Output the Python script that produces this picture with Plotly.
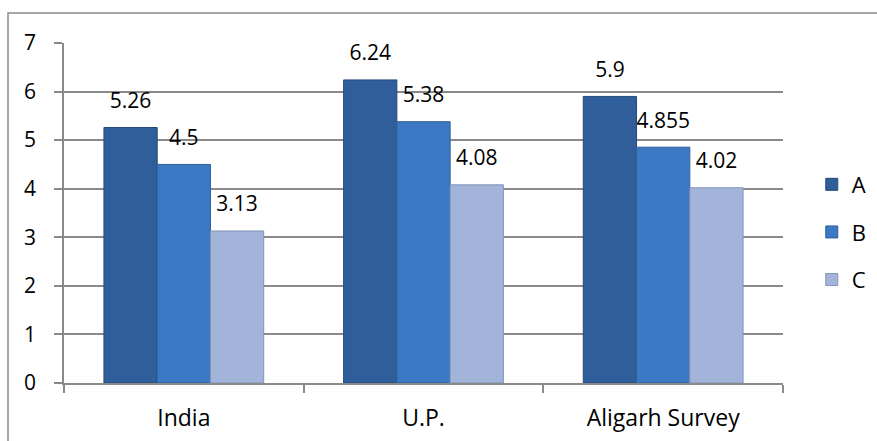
import plotly.graph_objects as go

# Data
categories = ["India", "U.P.", "Aligarh Survey"]
series_names = ["A", "B", "C"]
values_a = [5.26, 6.24, 5.9]
values_b = [4.5, 5.38, 4.855]
values_c = [3.13, 4.08, 4.02]
y_ticks = [0, 1, 2, 3, 4, 5, 6, 7]

# Styling
fills = ["#2F5E9B", "#3C79C5", "#A2B4D9"]
edges = ["#24497A", "#2E5F9F", "#8193B8"]
GRID = "#8A8A8A"
FONT = "Open Sans"
W, H = 877, 441
ML, MR, MT, MB = 64, 94, 43, 58
LABEL_PAD = 0.22  # gap (in value units) between bar top and its value label

fig = go.Figure()

series_values = [values_a, values_b, values_c]

for name, vals, fill, edge in zip(series_names, series_values, fills, edges):
    fig.add_trace(go.Bar(
        x=categories, y=vals, name=name,
        offsetgroup=name, legendgroup=name,
        marker=dict(color=fill, line=dict(color=edge, width=1)),
        hovertemplate=name + ": %{y}<extra></extra>",
    ))

# Value labels sit in the same offset group, lifted a little above each bar
for name, vals in zip(series_names, series_values):
    fig.add_trace(go.Bar(
        x=categories, y=[LABEL_PAD] * len(vals), base=vals,
        offsetgroup=name, legendgroup=name, showlegend=False,
        marker=dict(color="rgba(0,0,0,0)", line=dict(width=0)),
        text=[f"{v:g}" for v in vals], textposition="outside",
        constraintext="none", cliponaxis=False,
        textfont=dict(family=FONT, size=21, color="#000000"),
        hoverinfo="skip",
    ))

# Chart frame (left and top edges of the chart area)
pw, ph = W - ML - MR, H - MT - MB
fx0 = (8 - ML) / pw
fx1 = (W + 10 - ML) / pw
fy_top = (H - MB - 13) / ph
fy_bot = (H - MB - (H + 10)) / ph
fig.add_shape(type="path", xref="paper", yref="paper",
              path=f"M {fx0},{fy_bot} L {fx0},{fy_top} L {fx1},{fy_top}",
              line=dict(color=GRID, width=1.5), layer="below")

fig.update_layout(
    width=W, height=H,
    margin=dict(l=ML, r=MR, t=MT, b=MB, autoexpand=False),
    paper_bgcolor="white", plot_bgcolor="white",
    barmode="group", bargap=1 / 3, bargroupgap=0,
    font=dict(family=FONT, size=21, color="#000000"),
    showlegend=True,
    legend=dict(
        x=1.04, xanchor="left", y=0.444, yanchor="middle",
        font=dict(family=FONT, size=22, color="#000000"),
        traceorder="grouped", tracegroupgap=16,
        bgcolor="rgba(0,0,0,0)", itemwidth=30,
    ),
    xaxis=dict(
        showline=True, linecolor=GRID, linewidth=1.5,
        ticks="outside", tickson="boundaries", ticklen=8,
        tickcolor=GRID, tickwidth=1.5, ticklabelstandoff=14,
        showgrid=False, tickfont=dict(family=FONT, size=23),
        automargin=False,
    ),
    yaxis=dict(
        range=[0, 7], tickvals=y_ticks,
        showline=True, linecolor=GRID, linewidth=1.5,
        ticks="outside", ticklen=8, tickcolor=GRID, tickwidth=1.5,
        ticklabelstandoff=14,
        showgrid=True, gridcolor=GRID, gridwidth=1.5,
        zeroline=False, tickfont=dict(family=FONT, size=21),
        automargin=False,
    ),
)

fig.write_html("out.html")
